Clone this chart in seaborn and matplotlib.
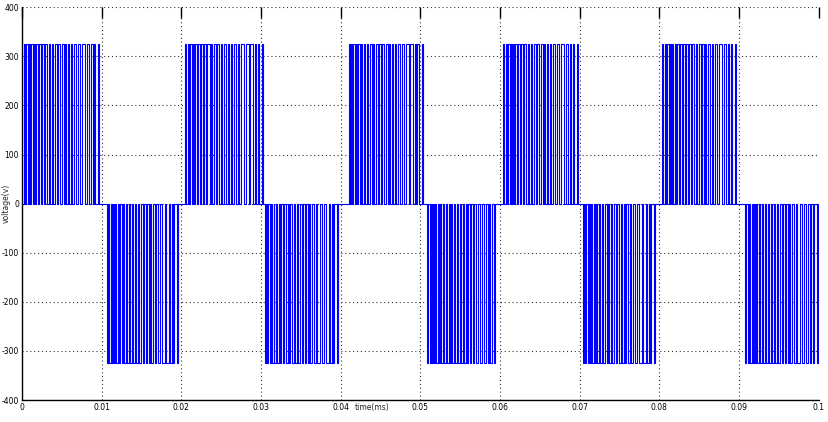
import numpy as np
import pandas as pd
import matplotlib
matplotlib.use("Agg")
import matplotlib.pyplot as plt
import seaborn as sns

# pulse blocks (ms), alternating +/- half cycles
block_start_ms = [0.25, 10.7, 20.5, 30.5, 41.0, 50.9, 60.4, 70.4, 80.4, 90.8]
block_end_ms = [9.7, 19.6, 30.3, 39.7, 50.3, 59.4, 69.8, 79.5, 89.6, 99.9]
block_sign = [1, -1, 1, -1, 1, -1, 1, -1, 1, -1]
amplitude = 325

# switching edges inside one half cycle (ms from block start), estimated
edges_ms = [0, 0.12, 0.30, 0.45, 0.62, 0.80, 0.93, 1.10, 1.22, 1.40, 1.55, 1.76,
            1.90, 2.10, 2.28, 2.51, 2.66, 2.93, 3.08, 3.27, 3.45, 3.69, 3.85, 4.11,
            4.28, 4.49, 4.70, 4.95, 5.10, 5.32, 5.50, 5.65, 5.85, 6.07, 6.30, 6.53,
            6.75, 7.04, 7.30, 7.63, 7.85, 8.17, 8.40, 8.59, 8.75, 8.92, 9.30, 9.42]

x_ticks = [0, 0.01, 0.02, 0.03, 0.04, 0.05, 0.06, 0.07, 0.08, 0.09, 0.1]
x_labels = ["0", "0.01", "0.02", "0.03", "0.04", "0.05", "0.06", "0.07", "0.08", "0.09", "0.1"]
y_ticks = [-400, -300, -200, -100, 0, 100, 200, 300, 400]

# build the step waveform
t = [0.0]
v = [0.0]
edges = np.array(edges_ms) / edges_ms[-1]
for s, e, sg in zip(block_start_ms, block_end_ms, block_sign):
    ed = s + edges * (e - s)
    for i in range(0, len(ed) - 1, 2):
        r, f = ed[i], ed[i + 1]
        t += [r, r, f, f]
        v += [0, sg * amplitude, sg * amplitude, 0]
t.append(100.0)
v.append(0.0)
df = pd.DataFrame({"time": np.array(t) / 1000.0, "voltage": v})

sns.set_style("white")
fig = plt.figure(figsize=(8.29, 4.22), dpi=100)
ax = fig.add_axes([0.0265, 0.052, 0.961, 0.931])

ax.grid(True, linestyle=(0, (1, 2.5)), color="#333333", linewidth=0.8)
ax.set_axisbelow(True)

sns.lineplot(data=df, x="time", y="voltage", estimator=None, sort=False,
             color="#0000ff", linewidth=0.8, ax=ax)

ax.set_xlim(0, 0.1)
ax.set_ylim(-400, 400)
ax.set_xticks(x_ticks)
ax.set_xticklabels(x_labels)
ax.set_yticks(y_ticks)
ax.set_yticklabels([str(y) for y in y_ticks])
sns.despine(ax=ax)
for sp in ["left", "bottom"]:
    ax.spines[sp].set_color("black")
    ax.spines[sp].set_linewidth(1)
ax.tick_params(direction="in", length=8, width=1, top=True, labelsize=5.5,
               colors="black", pad=2)

ax.set_xlabel("time(ms)", fontsize=5.5)
ax.xaxis.set_label_coords(0.44, -0.008)
ax.xaxis.label.set_va("top")
ax.set_ylabel("voltage(v)", fontsize=5.5)
ax.yaxis.set_label_coords(-0.014, 0.5)

fig.savefig("out.png", dpi=100)
